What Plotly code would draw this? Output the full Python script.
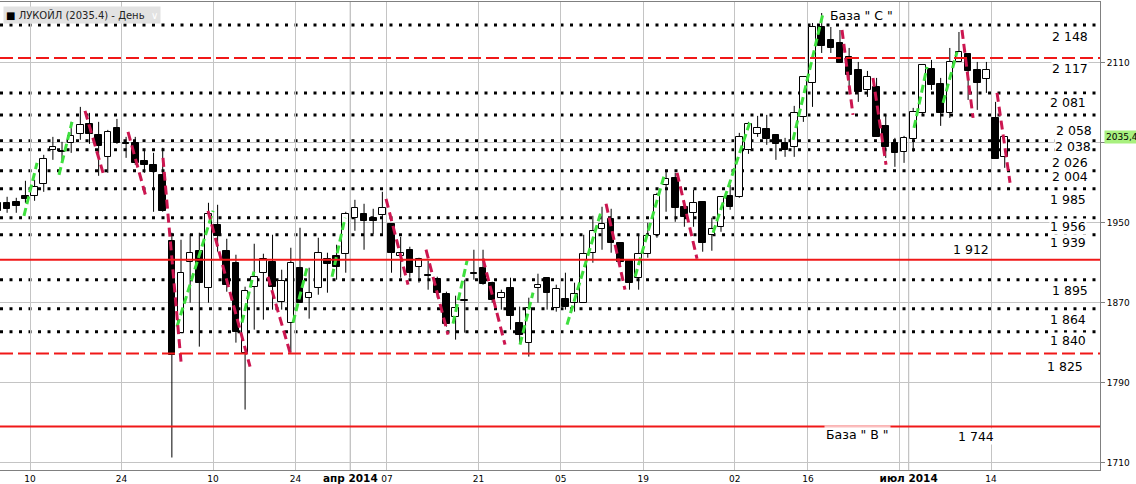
import plotly.graph_objects as go

# ---------------- data ----------------
opens = [1970, 1970, 1971, 1977, 1977, 1989, 2023, 2022, 2030, 2039,
         2049, 2038, 2016, 2045, 2030, 2030, 2012, 2008, 1998, 1932,
         1840, 1911, 1922, 1885, 1948, 1922, 1910, 1820, 1886, 1900,
         1911, 1871, 1850, 1905, 1875, 1885, 1914, 1917, 1919, 1955,
         1959, 1955, 1958, 1949, 1917, 1923, 1906, 1898, 1894, 1879,
         1856, 1872, 1900, 1905, 1890, 1875, 1885, 1850, 1830, 1885,
         1895, 1865, 1874, 1870, 1870, 1920, 1944, 1954, 1930, 1912,
         1895, 1919, 1938, 1988, 1995, 1966, 1960, 1971, 1938, 1946,
         1977, 1976, 2023, 2039, 2044, 2038, 2030, 2026, 2056, 2090,
         2146, 2133, 2130, 2116, 2103, 2083, 2086, 2047, 2030, 2021,
         2034, 2060, 2104, 2089, 2060, 2111, 2119, 2103, 2094, 2055,
         2016]
highs = [1974, 1976, 1975, 1992, 1993, 2018, 2036, 2031, 2051, 2066,
         2060, 2051, 2043, 2054, 2036, 2036, 2023, 2020, 2025, 1940,
         1933, 1939, 1940, 1970, 1968, 1934, 1918, 1886, 1929, 1919,
         1938, 1903, 1925, 1945, 1905, 1935, 1920, 1928, 1961, 1973,
         1969, 1964, 1981, 1949, 1936, 1926, 1915, 1912, 1896, 1881,
         1877, 1893, 1923, 1923, 1891, 1883, 1895, 1866, 1875, 1899,
         1895, 1888, 1900, 1890, 1938, 1957, 1966, 1964, 1930, 1912,
         1938, 1950, 1980, 2003, 2000, 1966, 1983, 1971, 1955, 1976,
         1988, 2040, 2051, 2057, 2058, 2038, 2035, 2067, 2096, 2150,
         2160, 2146, 2143, 2125, 2111, 2102, 2095, 2058, 2035, 2037,
         2065, 2108, 2113, 2095, 2125, 2141, 2119, 2111, 2111, 2071,
         2035.4]
lows = [1959, 1960, 1960, 1970, 1972, 1981, 2013, 2010, 2020, 2033,
        2029, 1997, 2000, 2029, 2015, 2008, 2000, 1961, 1961, 1715,
        1840, 1870, 1826, 1870, 1921, 1881, 1830, 1763, 1843, 1853,
        1863, 1863, 1820, 1870, 1854, 1878, 1880, 1893, 1900, 1942,
        1923, 1939, 1939, 1900, 1895, 1895, 1890, 1883, 1875, 1846,
        1833, 1840, 1893, 1888, 1870, 1863, 1843, 1829, 1816, 1870,
        1863, 1861, 1863, 1861, 1870, 1910, 1923, 1920, 1906, 1883,
        1883, 1915, 1935, 1961, 1951, 1946, 1946, 1921, 1922, 1941,
        1963, 1975, 2019, 2036, 2028, 2013, 2016, 2016, 2051, 2066,
        2120, 2120, 2110, 2083, 2071, 2076, 2036, 2015, 2006, 2010,
        2021, 2058, 2083, 2047, 2055, 2111, 2073, 2063, 2080, 2014,
        2005]
closes = [1962, 1964, 1967, 1974, 1986, 2014, 2026, 2021, 2037, 2048,
          2039, 2027, 2041, 2030, 2029, 2010, 2008, 2001, 1962, 1818,
          1900, 1920, 1890, 1959, 1937, 1888, 1841, 1882, 1896, 1914,
          1886, 1892, 1910, 1870, 1880, 1920, 1909, 1906, 1959, 1965,
          1952, 1952, 1965, 1920, 1920, 1900, 1914, 1897, 1880, 1849,
          1865, 1873, 1899, 1889, 1873, 1880, 1857, 1838, 1865, 1888,
          1880, 1884, 1866, 1879, 1919, 1942, 1949, 1930, 1911, 1890,
          1919, 1937, 1978, 1994, 1965, 1956, 1970, 1930, 1944, 1976,
          1966, 2036, 2049, 2045, 2034, 2029, 2023, 2060, 2096, 2146,
          2127, 2125, 2110, 2098, 2081, 2096, 2036, 2026, 2020, 2035,
          2061, 2108, 2088, 2060, 2111, 2121, 2102, 2090, 2103, 2014,
          2035.4]

# bar index of labelled trading days (gridline sits at the start of that day)
tick_bars = [4, 14, 24, 33, 39, 43, 53, 62, 71, 81, 89, 99, 100, 109]
tick_labels = ["10", "24", "10", "24", "апр 2014", "07", "21", "05", "19",
               "02", "16", "", "июл 2014", "14"]
month_bars = [39, 100]

price_ticks = [2110, 2030, 1950, 1870, 1790, 1710]
price_tick_text = ["2110", "", "1950", "1870", "1790", "1710"]  # 2030 hidden under price tag

dotted_levels = [2148, 2080, 2058, 2032, 2023, 2002, 1984, 1955, 1938, 1893, 1864, 1841]
red_dashed_levels = [2115, 1819]
red_solid_levels = [1913, 1746]

level_labels = ["2 148", "2 117", "2 081", "2 058", "2 038", "2 026", "2 004", "1 985",
                "1 956", "1 939", "1 912", "1 895", "1 864", "1 840", "1 825", "1 744"]

# wave segments: (bar0, price0) -> (bar1, price1)
up_x0 = [2.84, 6.67, 19.56, 26.66, 32.24, 36.50, 49.72, 57.04, 62.18, 69.61, 78.13, 86.87, 100.09, 103.26]
up_y0 = [1957, 1998, 1846, 1850, 1850, 1896, 1849, 1828, 1848, 1896, 1940, 2033, 2045, 2070]
up_x1 = [4.27, 8.09, 23.50, 27.97, 33.77, 37.92, 51.25, 58.46, 65.89, 72.88, 82.17, 90.15, 101.51, 104.79]
up_y1 = [2010, 2051, 1962, 1901, 1905, 1955, 1912, 1880, 1961, 2000, 2051, 2160, 2106, 2121]

dn_x0 = [9.51, 14.21, 18.03, 22.95, 29.50, 42.40, 46.77, 53.00, 66.44, 74.20, 92.22, 95.61, 105.33, 109.16]
dn_y0 = [2062, 2041, 2015, 1962, 1896, 1974, 1923, 1914, 1969, 2000, 2143, 2095, 2143, 2080]
dn_x1 = [11.48, 16.17, 20.00, 27.54, 31.91, 44.80, 49.17, 55.40, 68.51, 76.38, 93.42, 97.03, 106.54, 110.58]
dn_y1 = [2000, 1976, 1811, 1806, 1820, 1888, 1838, 1828, 1883, 1914, 2058, 2008, 2055, 1990]

last_price = "2035,4"
title_text = "ЛУКОЙЛ (2035.4) - День"
base_c = 'База " C "'
base_b = 'База " B "'

# ---------------- layout constants ----------------
W, H = 1136, 484
PLOT_W = 1100
FONT = "DejaVu Sans"

n = len(opens)
xs = list(range(n))
body_lo = [min(o, c) for o, c in zip(opens, closes)]
body_hi = [max(o, c) for o, c in zip(opens, closes)]
body_h = [max(h - l, 1.0) for h, l in zip(body_hi, body_lo)]
fills = ["white" if c > o else "black" for o, c in zip(opens, closes)]

fig = go.Figure()

# wicks (split so they don't cross white bodies)
wx, wy = [], []
for i in xs:
    if highs[i] > body_hi[i]:
        wx += [i, i, None]
        wy += [highs[i], body_hi[i], None]
    if lows[i] < body_lo[i]:
        wx += [i, i, None]
        wy += [body_lo[i], lows[i], None]
fig.add_trace(go.Scatter(x=wx, y=wy, mode="lines", line=dict(color="black", width=1),
                         hoverinfo="skip", showlegend=False))

fig.add_trace(go.Bar(x=xs, y=body_h, base=body_lo, width=0.72,
                     marker=dict(color=fills, line=dict(color="black", width=1)),
                     showlegend=False))


def seg_xy(x0, y0, x1, y1):
    sx, sy = [], []
    for a, b, c, d in zip(x0, y0, x1, y1):
        sx += [a, c, None]
        sy += [b, d, None]
    return sx, sy


gx, gy = seg_xy(up_x0, up_y0, up_x1, up_y1)
rx, ry = seg_xy(dn_x0, dn_y0, dn_x1, dn_y1)
fig.add_trace(go.Scatter(x=gx, y=gy, mode="lines",
                         line=dict(color="#3ee03e", width=3, dash="8px,4px"),
                         hoverinfo="skip", showlegend=False))
fig.add_trace(go.Scatter(x=rx, y=ry, mode="lines",
                         line=dict(color="#cc1650", width=3, dash="9px,5px"),
                         hoverinfo="skip", showlegend=False))

shapes = []
for b in month_bars:
    shapes.append(dict(type="line", xref="x", yref="paper", x0=b - 0.5, x1=b - 0.5, y0=0, y1=1,
                       line=dict(color="#7a7a7a", width=1), layer="between"))
for v in dotted_levels:
    shapes.append(dict(type="line", xref="paper", yref="y", x0=0, x1=1, y0=v, y1=v,
                       line=dict(color="black", width=3, dash="3px,6.5px"), layer="between"))
for v in red_dashed_levels:
    shapes.append(dict(type="line", xref="paper", yref="y", x0=0, x1=1, y0=v, y1=v,
                       line=dict(color="#f01818", width=2, dash="13px,5px"), layer="above"))
for v in red_solid_levels:
    shapes.append(dict(type="line", xref="paper", yref="y", x0=0, x1=1, y0=v, y1=v,
                       line=dict(color="#f01818", width=2), layer="above"))

# label placement: (right edge px, centre price)
label_pos = [(1089, 2136), (1089, 2104), (1087, 2070), (1093, 2042), (1092, 2026),
             (1089, 2010), (1089, 1996), (1087, 1973), (1087, 1946), (1087, 1930),
             (990, 1923), (1089, 1882), (1087, 1853), (1087, 1832), (1084, 1806),
             (995, 1736)]

annotations = []
for txt, (px, py) in zip(level_labels, label_pos):
    annotations.append(dict(text=txt, xref="paper", yref="y", x=px / PLOT_W, y=py,
                            xanchor="right", yanchor="middle", showarrow=False,
                            bgcolor="white", borderpad=0,
                            font=dict(family=FONT, size=12.5, color="black")))
annotations.append(dict(text=base_c, xref="paper", yref="y", x=861 / PLOT_W, y=2157,
                        xanchor="center", yanchor="middle", showarrow=False,
                        font=dict(family=FONT, size=12.5, color="black")))
annotations.append(dict(text=base_b, xref="paper", yref="y", x=857 / PLOT_W, y=1738,
                        xanchor="center", yanchor="middle", showarrow=False,
                        bgcolor="rgba(255,255,255,0.72)", borderpad=1,
                        font=dict(family=FONT, size=12.5, color="black")))
annotations.append(dict(text=last_price, xref="paper", yref="y", x=1, y=2035.4,
                        xanchor="left", yanchor="middle", xshift=4, showarrow=False,
                        bgcolor="#a8f07e", borderpad=1,
                        font=dict(family=FONT, size=9, color="black")))
annotations.append(dict(text="<span style='color:black'>■</span> " + title_text +
                        "  <span style='color:white'>∨</span>",
                        xref="paper", yref="paper", x=3 / PLOT_W, y=1, yshift=-4,
                        xanchor="left", yanchor="top", showarrow=False,
                        bgcolor="#e2e2e2", borderpad=2,
                        font=dict(family=FONT, size=10, color="#222222")))

ticktext = [("<b><span style='font-size:10.5px'>%s</span></b>" % t) if b in month_bars else t
            for t, b in zip(tick_labels, tick_bars)]

fig.update_layout(
    width=W, height=H,
    margin=dict(l=0, r=W - PLOT_W, t=2, b=14, pad=0),
    paper_bgcolor="white", plot_bgcolor="white",
    showlegend=False, bargap=0,
    shapes=shapes, annotations=annotations,
    xaxis=dict(range=[0.222, 120.41], tickmode="array",
               tickvals=[b - 0.5 for b in tick_bars], ticktext=ticktext,
               showgrid=True, gridcolor="#c4c4c4", gridwidth=1, zeroline=False,
               showline=True, linecolor="#808080", linewidth=1, mirror=True,
               ticks="", tickfont=dict(family=FONT, size=9, color="black"),
               automargin=False, fixedrange=True),
    yaxis=dict(range=[1702.5, 2171], side="right", tickmode="array",
               tickvals=price_ticks, ticktext=price_tick_text,
               showgrid=True, gridcolor="#c4c4c4", gridwidth=1, zeroline=False,
               showline=True, linecolor="#808080", linewidth=1,
               ticks="outside", ticklen=4, tickcolor="#808080",
               tickfont=dict(family=FONT, size=9, color="black"),
               automargin=False, fixedrange=True),
)

fig.write_html("out.html", config={"displayModeBar": False},
               post_script="document.body.style.margin='0';document.body.style.overflow='hidden';")
